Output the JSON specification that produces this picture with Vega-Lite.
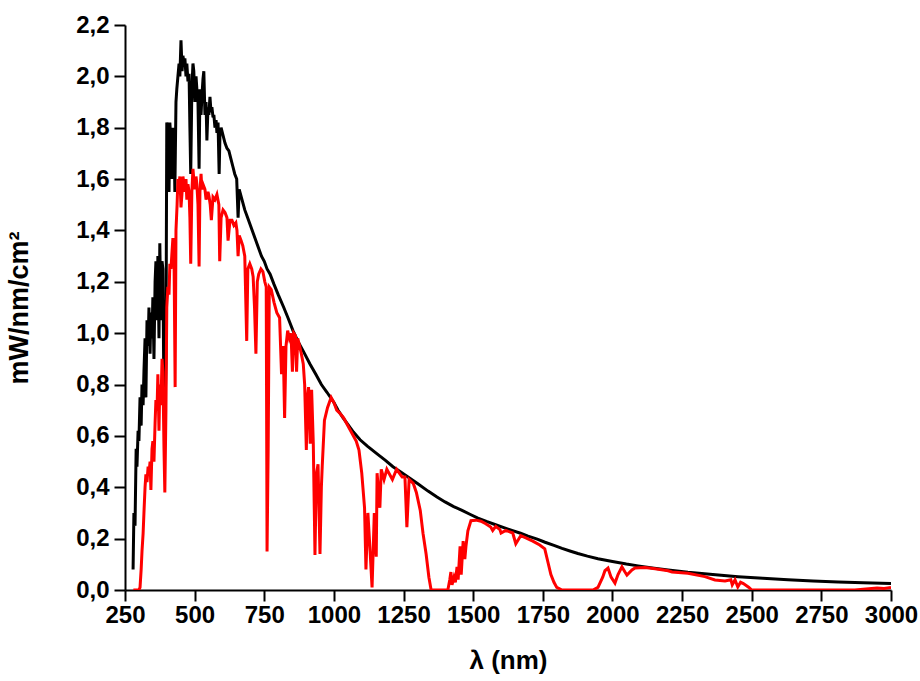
{
  "$schema": "https://vega.github.io/schema/vega-lite/v6.json",
  "width": 766,
  "height": 565,
  "autosize": {"type": "none"},
  "padding": {"left": 125, "top": 25, "right": 29, "bottom": 91},
  "background": "white",
  "config": {"view": {"stroke": null}},
  "datasets": {
    "am0": [
      [279,0.08],[282,0.30],[286,0.25],[290,0.55],[293,0.48],[297,0.62],[300,0.58],[304,0.75],[308,0.64],[311,0.80],[315,0.72],[318,0.85],[322,0.98],[325,0.75],[329,1.05],[333,0.95],[336,1.10],[340,0.92],[343,1.08],[347,0.98],[350,1.14],[354,0.90],[358,1.20],[361,1.28],[365,1.05],[368,1.30],[372,0.98],[375,1.35],[379,1.05],[383,1.28],[386,1.25],[390,0.72],[393,0.62],[397,0.90],[400,1.82],[404,1.80],[408,1.55],[411,1.82],[415,1.75],[418,1.60],[422,1.80],[426,1.78],[429,1.55],[433,1.90],[436,1.95],[440,2.00],[444,2.05],[447,2.00],[451,2.14],[455,2.02],[458,2.08],[462,2.05],[465,2.07],[469,2.00],[472,2.05],[476,1.98],[480,2.01],[483,1.80],[486,1.62],[490,1.95],[494,2.05],[497,2.02],[501,1.90],[505,2.00],[508,1.95],[512,1.90],[516,1.64],[519,1.95],[523,1.85],[526,1.92],[530,1.99],[533,2.02],[537,1.85],[541,1.90],[544,1.75],[548,1.88],[551,1.85],[555,1.92],[559,1.86],[562,1.88],[566,1.84],[569,1.85],[573,1.80],[577,1.83],[580,1.78],[584,1.82],[588,1.62],[591,1.78],[595,1.80],[602,1.77],[609,1.74],[616,1.72],[623,1.71],[630,1.68],[637,1.65],[644,1.62],[651,1.60],[656,1.45],[660,1.56],[670,1.52],[680,1.48],[690,1.45],[700,1.42],[710,1.39],[720,1.36],[730,1.33],[740,1.30],[750,1.28],[760,1.25],[771,1.23],[785,1.19],[800,1.15],[820,1.10],[835,1.06],[853,1.01],[870,0.97],[890,0.93],[914,0.88],[935,0.84],[955,0.80],[975,0.77],[1000,0.73],[1015,0.70],[1033,0.67],[1050,0.645],[1070,0.615],[1094,0.585],[1120,0.56],[1155,0.53],[1185,0.505],[1212,0.48],[1240,0.46],[1266,0.44],[1300,0.415],[1338,0.385],[1370,0.362],[1399,0.343],[1430,0.325],[1460,0.31],[1490,0.294],[1517,0.28],[1550,0.266],[1578,0.255],[1610,0.243],[1639,0.232],[1670,0.221],[1697,0.21],[1730,0.198],[1758,0.186],[1790,0.174],[1819,0.162],[1850,0.151],[1876,0.142],[1910,0.132],[1948,0.122],[2000,0.111],[2050,0.101],[2092,0.094],[2150,0.085],[2200,0.078],[2271,0.069],[2350,0.061],[2451,0.052],[2540,0.046],[2630,0.040],[2720,0.035],[2810,0.031],[2900,0.028],[3000,0.025]
    ],
    "am15": [
      [280,0],[300,0],[304,0.01],[308,0.08],[311,0.15],[315,0.22],[318,0.30],[322,0.40],[325,0.45],[329,0.42],[333,0.48],[336,0.45],[340,0.50],[343,0.39],[347,0.55],[350,0.58],[354,0.50],[358,0.65],[361,0.74],[365,0.70],[368,0.84],[372,0.62],[375,0.80],[379,0.72],[383,0.90],[386,0.85],[390,0.55],[393,0.38],[397,0.70],[400,1.10],[404,1.18],[408,1.15],[411,1.27],[415,1.25],[419,1.32],[422,1.37],[426,1.30],[430,0.79],[433,1.40],[437,1.50],[440,1.60],[444,1.58],[447,1.61],[451,1.49],[455,1.55],[458,1.61],[462,1.58],[465,1.55],[469,1.60],[472,1.52],[476,1.58],[480,1.55],[483,1.45],[486,1.27],[490,1.55],[494,1.64],[497,1.60],[501,1.56],[505,1.61],[508,1.58],[512,1.50],[516,1.26],[519,1.55],[523,1.62],[526,1.56],[530,1.58],[537,1.56],[541,1.52],[548,1.55],[552,1.53],[556,1.50],[560,1.44],[566,1.53],[573,1.52],[580,1.54],[587,1.50],[590,1.28],[595,1.45],[602,1.48],[609,1.47],[616,1.45],[620,1.36],[627,1.44],[634,1.44],[641,1.42],[648,1.43],[652,1.40],[656,1.30],[660,1.38],[667,1.36],[673,1.34],[680,1.30],[687,0.97],[691,1.25],[698,1.27],[705,1.25],[710,1.22],[715,1.10],[720,0.92],[725,1.20],[730,1.23],[738,1.25],[745,1.24],[752,1.20],[757,1.18],[760,0.15],[764,0.55],[768,1.18],[775,1.17],[785,1.12],[795,1.08],[805,1.06],[812,0.84],[818,0.95],[823,0.67],[828,0.95],[834,1.01],[840,0.98],[846,1.00],[851,0.85],[856,1.00],[862,0.99],[866,0.85],[870,0.98],[877,0.95],[883,0.92],[890,0.88],[895,0.80],[901,0.545],[905,0.75],[909,0.79],[915,0.57],[920,0.78],[926,0.57],[932,0.136],[937,0.45],[943,0.49],[950,0.14],[955,0.40],[958,0.48],[966,0.66],[977,0.71],[990,0.75],[1000,0.73],[1010,0.70],[1020,0.69],[1035,0.67],[1055,0.63],[1080,0.58],[1090,0.545],[1100,0.455],[1110,0.32],[1115,0.08],[1122,0.30],[1130,0.15],[1137,0.01],[1145,0.30],[1152,0.13],[1155,0.455],[1165,0.32],[1170,0.47],[1180,0.43],[1190,0.47],[1210,0.43],[1225,0.47],[1245,0.44],[1255,0.44],[1262,0.245],[1270,0.43],[1285,0.415],[1296,0.38],[1310,0.31],[1320,0.22],[1331,0.14],[1341,0.05],[1349,0],[1409,0],[1416,0.04],[1420,0.07],[1424,0.02],[1431,0.05],[1436,0.03],[1442,0.09],[1446,0.04],[1453,0.17],[1457,0.06],[1464,0.19],[1470,0.12],[1474,0.17],[1481,0.23],[1492,0.27],[1510,0.272],[1528,0.268],[1545,0.258],[1563,0.245],[1570,0.232],[1581,0.248],[1596,0.235],[1600,0.222],[1617,0.232],[1642,0.222],[1653,0.18],[1671,0.212],[1689,0.203],[1714,0.19],[1739,0.175],[1757,0.16],[1768,0.11],[1779,0.06],[1790,0.03],[1800,0.01],[1819,0],[1930,0],[1948,0.01],[1965,0.05],[1973,0.075],[1984,0.085],[1995,0.05],[2009,0.027],[2020,0.06],[2034,0.09],[2045,0.07],[2052,0.058],[2070,0.078],[2081,0.086],[2117,0.088],[2153,0.083],[2200,0.075],[2214,0.07],[2271,0.065],[2332,0.052],[2368,0.039],[2404,0.035],[2425,0.04],[2430,0.02],[2440,0.04],[2450,0.012],[2460,0.03],[2470,0.025],[2490,0.01],[2500,0],[2870,0],[2920,0.005],[2950,0.008],[2975,0.006],[3000,0.01]
    ]
  },
  "layer": [
    {
      "data": {"name": "am0"},
      "mark": {"type": "line", "color": "black", "strokeWidth": 3, "clip": true},
      "encoding": {
        "x": {"field": "0", "type": "quantitative"},
        "y": {"field": "1", "type": "quantitative"}
      }
    },
    {
      "data": {"name": "am15"},
      "mark": {"type": "line", "color": "#ff0000", "strokeWidth": 3, "clip": true},
      "encoding": {
        "x": {
          "field": "0", "type": "quantitative",
          "scale": {"domain": [250, 3000], "nice": false, "zero": false},
          "axis": {
            "title": "λ (nm)",
            "values": [250,375,500,625,750,875,1000,1125,1250,1375,1500,1625,1750,1875,2000,2125,2250,2375,2500,2625,2750,2875,3000],
            "labelExpr": "datum.value % 250 === 0 ? format(datum.value, 'd') : ''",
            "tickSize": {"condition": {"test": "datum.value % 250 === 0", "value": 11}, "value": 6},
            "tickWidth": 2, "tickColor": "black",
            "domainColor": "black", "domainWidth": 2,
            "grid": false,
            "labelFont": "Liberation Sans", "labelFontWeight": "bold", "labelFontSize": 24, "labelColor": "black",
            "labelPadding": 2, "labelFlush": false, "labelOverlap": false,
            "titleFont": "Liberation Sans", "titleFontWeight": "bold", "titleFontSize": 26, "titleColor": "black",
            "titlePadding": 20
          }
        },
        "y": {
          "field": "1", "type": "quantitative",
          "scale": {"domain": [0, 2.2], "nice": false, "zero": true},
          "axis": {
            "title": "mW/nm/cm²",
            "values": [0,0.1,0.2,0.3,0.4,0.5,0.6,0.7,0.8,0.9,1.0,1.1,1.2,1.3,1.4,1.5,1.6,1.7,1.8,1.9,2.0,2.1,2.2],
            "labelExpr": "round(datum.value*10) % 2 === 0 ? replace(format(datum.value, '.1f'), '.', ',') : ''",
            "tickSize": {"condition": {"test": "round(datum.value*10) % 2 === 0", "value": 11}, "value": 6},
            "tickWidth": 2, "tickColor": "black",
            "domainColor": "black", "domainWidth": 2,
            "grid": false,
            "labelFont": "Liberation Sans", "labelFontWeight": "bold", "labelFontSize": 24, "labelColor": "black",
            "labelPadding": 5, "labelFlush": false, "labelOverlap": false,
            "titleFont": "Liberation Sans", "titleFontWeight": "bold", "titleFontSize": 27, "titleColor": "black",
            "titleX": -92
          }
        }
      }
    }
  ]
}
